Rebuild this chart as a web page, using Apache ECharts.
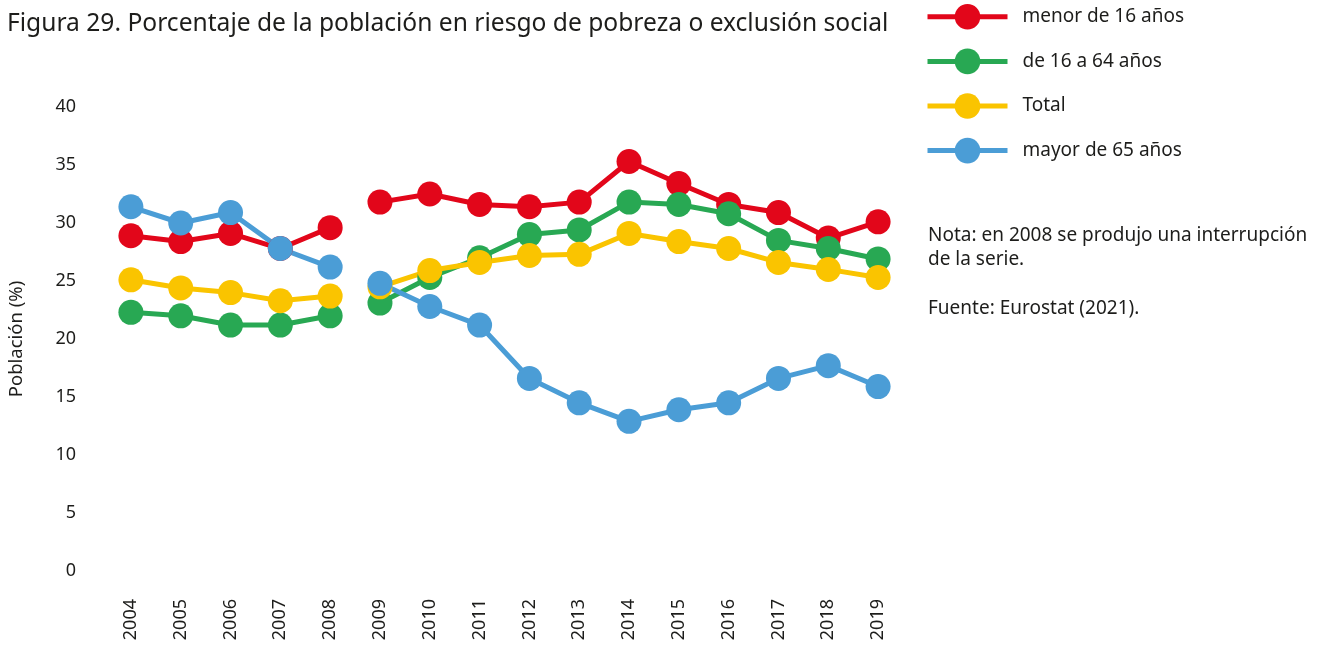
<!DOCTYPE html>
<html>
<head>
<meta charset="utf-8">
<script src="https://cdn.jsdelivr.net/npm/echarts@6/dist/echarts.min.js"></script>
<style>
html, body { margin: 0; padding: 0; background: #fff; }
#chart { width: 1323px; height: 647px; }
</style>
</head>
<body>
<div id="chart"></div>
<script>
// datos (Eurostat 2021)
var years = ['2004','2005','2006','2007','2008','2009','2010','2011','2012','2013','2014','2015','2016','2017','2018','2019'];
var menor16 = [28.9, 28.4, 29.1, 27.8, 29.6, 31.8, 32.5, 31.6, 31.4, 31.8, 35.3, 33.4, 31.6, 30.9, 28.7, 30.1];
var de16a64 = [22.3, 22.0, 21.2, 21.2, 22.0, 23.1, 25.3, 27.0, 29.0, 29.4, 31.8, 31.6, 30.8, 28.5, 27.8, 26.9];
var total   = [25.1, 24.4, 24.0, 23.3, 23.7, 24.5, 25.9, 26.6, 27.2, 27.3, 29.1, 28.4, 27.8, 26.6, 26.0, 25.3];
var mayor65 = [31.4, 30.0, 30.9, 27.8, 26.2, 24.8, 22.8, 21.2, 16.6, 14.5, 12.9, 13.9, 14.5, 16.6, 17.7, 15.9];
var yTicks = [0, 5, 10, 15, 20, 25, 30, 35, 40];
var breakIdx = 5; // interrupcion de la serie entre 2008 y 2009

var grupos = [
    { name: 'menor de 16 años', color: '#E2061A', data: menor16 },
    { name: 'de 16 a 64 años', color: '#28A853', data: de16a64 },
    { name: 'Total', color: '#FAC400', data: total },
    { name: 'mayor de 65 años', color: '#4B9DD6', data: mayor65 }
];

var font = 'Noto Sans';
var series = [];
grupos.forEach(function (g) {
    var antes = g.data.map(function (v, i) { return i < breakIdx ? v : '-'; });
    var despues = g.data.map(function (v, i) { return i >= breakIdx ? v : '-'; });
    [antes, despues].forEach(function (d) {
        series.push({
            name: g.name,
            type: 'line',
            data: d,
            symbol: 'circle',
            symbolSize: 25,
            lineStyle: { width: 5, color: g.color },
            itemStyle: { color: g.color },
            emphasis: { disabled: true },
            animation: false
        });
    });
});

var myChart = echarts.init(document.getElementById('chart'));
var option = {
    backgroundColor: '#fff',
    textStyle: { fontFamily: font },
    title: {
        text: 'Figura 29. Porcentaje de la población en riesgo de pobreza o exclusión social',
        left: 2,
        top: 6,
        textStyle: { fontFamily: font, fontSize: 24.6, fontWeight: 'normal', color: '#1d1d1b' }
    },
    legend: {
        data: grupos.map(function (g) { return g.name; }),
        orient: 'vertical',
        left: 920,
        top: -1,
        itemWidth: 80,
        itemHeight: 32,
        itemGap: 19,
        lineStyle: { width: 5 },
        textStyle: { fontFamily: font, fontSize: 19, color: '#1d1d1b', padding: [0, 0, 0, 10] }
    },
    grid: { left: 106, top: 107, width: 797, height: 464, outerBoundsMode: 'none', containLabel: false },
    xAxis: {
        type: 'category',
        data: years,
        boundaryGap: true,
        axisLine: { show: false },
        axisTick: { show: false },
        axisLabel: { rotate: 90, margin: 28, fontSize: 18, color: '#1d1d1b', fontFamily: font }
    },
    yAxis: {
        type: 'value',
        min: yTicks[0],
        max: yTicks[yTicks.length - 1],
        interval: 5,
        name: 'Población (%)',
        nameLocation: 'middle',
        nameGap: 80,
        nameTextStyle: { fontSize: 18.5, color: '#1d1d1b', fontFamily: font },
        axisLine: { show: false },
        axisTick: { show: false },
        splitLine: { show: false },
        axisLabel: { margin: 30, fontSize: 18, color: '#1d1d1b', fontFamily: font }
    },
    graphic: [
        {
            type: 'text', left: 928, top: 223,
            style: {
                text: 'Nota: en 2008 se produjo una interrupción\nde la serie.\n\nFuente: Eurostat (2021).',
                font: '19px "Noto Sans"', fill: '#1d1d1b', lineHeight: 24.5
            }
        }
    ],
    series: series
};
myChart.setOption(option);
</script>
</body>
</html>
